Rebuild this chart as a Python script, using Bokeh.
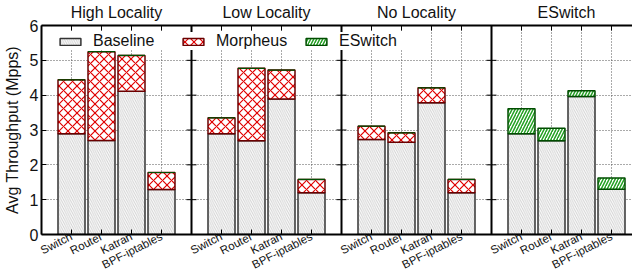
from bokeh.plotting import figure
from bokeh.models import (Range1d, FixedTicker, LinearAxis, Span, Legend,
                          LegendItem, ColumnDataSource)
from bokeh.embed import file_html
from bokeh.resources import INLINE

# ---------------- data ----------------
panels = ["High Locality", "Low Locality", "No Locality", "ESwitch"]
apps = ["Switch", "Router", "Katran", "BPF-iptables"]

baseline_high = [2.89, 2.70, 4.11, 1.29]
baseline_low = [2.89, 2.69, 3.89, 1.20]
baseline_none = [2.73, 2.65, 3.78, 1.20]
baseline_eswitch = [2.89, 2.69, 3.96, 1.30]

morpheus_high = [4.44, 5.25, 5.14, 1.78]   # total throughput with Morpheus
morpheus_low = [3.35, 4.77, 4.72, 1.58]
morpheus_none = [3.11, 2.92, 4.21, 1.58]

eswitch_total = [3.61, 3.05, 4.13, 1.62]   # total throughput with ESwitch

y_ticks = [0, 1, 2, 3, 4, 5, 6]

FONT = "Liberation Sans"
SLOTS = 5  # bar slots per panel (4 bars + gap)

# ---------------- sources ----------------
base_lists = [baseline_high, baseline_low, baseline_none, baseline_eswitch]
xs, base_top = [], []
for k, bl in enumerate(base_lists):
    for i, v in enumerate(bl):
        xs.append(k * SLOTS + i + 1)
        base_top.append(v)
src_base = ColumnDataSource(dict(x=xs, bottom=[0] * len(xs), top=base_top))

mx, mb, mt = [], [], []
for k, (bl, ml) in enumerate([(baseline_high, morpheus_high),
                              (baseline_low, morpheus_low),
                              (baseline_none, morpheus_none)]):
    for i in range(len(apps)):
        mx.append(k * SLOTS + i + 1)
        mb.append(bl[i])
        mt.append(ml[i])
src_morph = ColumnDataSource(dict(x=mx, bottom=mb, top=mt))

ex = [3 * SLOTS + i + 1 for i in range(len(apps))]
src_esw = ColumnDataSource(dict(x=ex, bottom=baseline_eswitch, top=eswitch_total))
src_esw0 = ColumnDataSource(dict(x=mx, bottom=mt, top=mt))

FRAME_W = 591
FRAME_H = 209
PX_PER_SLOT = 30.0
Y_MAX = y_ticks[-1]

p = figure(frame_width=FRAME_W, frame_height=FRAME_H,
           x_range=Range1d(0, FRAME_W / PX_PER_SLOT), y_range=Range1d(0, Y_MAX),
           output_backend="svg", toolbar_location=None,
           min_border_left=37, min_border_right=0, min_border_top=15, min_border_bottom=30)
p.background_fill_color = "white"
p.border_fill_color = "white"
p.outline_line_color = None

# grids
p.xgrid.ticker = FixedTicker(ticks=xs)
p.ygrid.ticker = FixedTicker(ticks=y_ticks)
for g in (p.xgrid, p.ygrid):
    g.grid_line_color = "#555555"
    g.grid_line_dash = "1 2"
    g.grid_line_width = 1

# bars
BW = 0.9
r_base = p.vbar(x="x", bottom="bottom", top="top", width=BW, source=src_base,
                fill_color="#fbfbfb", hatch_pattern="\\", hatch_color="#b4b4b4",
                hatch_scale=4.5, hatch_weight=0.6,
                line_color="#333333", line_width=1.5)
r_morph = p.vbar(x="x", bottom="bottom", top="top", width=BW, source=src_morph,
                 fill_color="white", hatch_pattern="x", hatch_color="#e00000",
                 hatch_scale=9, hatch_weight=1.2,
                 line_color="#6a0000", line_width=1.5)
r_esw = p.vbar(x="x", bottom="bottom", top="top", width=BW, source=src_esw,
               fill_color="white", hatch_pattern="/", hatch_color="#22a022",
               hatch_scale=6, hatch_weight=1.5,
               line_color="#004d00", line_width=1.5)
p.vbar(x="x", bottom="bottom", top="top", width=BW, source=src_esw0,
       fill_alpha=0, line_color="#004d00", line_width=1.2)

# panel separators with inward y ticks on both sides
for k in range(1, len(panels)):
    p.add_layout(Span(location=k * SLOTS, dimension="height",
                      line_color="black", line_width=2))
TICK_X = 5 / PX_PER_SLOT
TICK_Y = 5 * Y_MAX / FRAME_H
sx0, sx1, sy = [], [], []
for k in range(1, len(panels)):
    for t in y_ticks[1:-1]:
        sx0.append(k * SLOTS - TICK_X)
        sx1.append(k * SLOTS + TICK_X)
        sy.append(t)
p.segment(x0=sx0, x1=sx1, y0=sy, y1=sy, line_color="black", line_width=1)
# inward tick marks along the top border at bar positions
p.segment(x0=xs, x1=xs, y0=[Y_MAX] * len(xs), y1=[Y_MAX - TICK_Y] * len(xs),
          line_color="black", line_width=1)

# axes
p.yaxis.ticker = FixedTicker(ticks=y_ticks)
p.yaxis.axis_label = "Avg Throughput (Mpps)"
p.yaxis.axis_label_text_font = FONT
p.yaxis.axis_label_text_font_size = "16px"
p.yaxis.axis_label_text_font_style = "normal"
p.yaxis.axis_label_text_color = "#111111"
p.yaxis.axis_label_standoff = 6
p.yaxis.major_label_text_font = FONT
p.yaxis.major_label_text_font_size = "16px"
p.yaxis.major_label_text_color = "#111111"
p.yaxis.major_label_standoff = 3
p.yaxis.major_tick_in = 5
p.yaxis.major_tick_out = 0
p.yaxis.minor_tick_line_color = None
p.yaxis.axis_line_width = 2

p.xaxis.ticker = FixedTicker(ticks=xs)
p.xaxis.major_label_overrides = {x: apps[(x - 1) % SLOTS] for x in xs}
p.xaxis.major_label_orientation = 0.47
p.xaxis.major_label_text_font = FONT
p.xaxis.major_label_text_font_size = "11.5px"
p.xaxis.major_label_text_color = "#111111"
p.xaxis.major_label_standoff = 1
p.xaxis.major_tick_in = 5
p.xaxis.major_tick_out = 0
p.xaxis.minor_tick_line_color = None
p.xaxis.axis_line_width = 2

# panel titles as the top axis (its line is the top border)
title_ticks = [k * SLOTS + SLOTS / 2 for k in range(len(panels))]
title_ax = LinearAxis(ticker=FixedTicker(ticks=title_ticks),
                      major_label_overrides={t: n for t, n in zip(title_ticks, panels)},
                      major_tick_line_color=None, axis_line_width=2,
                      minor_tick_line_color=None, major_label_standoff=-1,
                      major_label_text_font=FONT, major_label_text_font_size="16px",
                      major_label_text_font_style="normal",
                      major_label_text_color="#111111")
p.add_layout(title_ax, "above")

# legend
legend = Legend(items=[LegendItem(label="Baseline", renderers=[r_base]),
                       LegendItem(label="Morpheus", renderers=[r_morph]),
                       LegendItem(label="ESwitch", renderers=[r_esw])],
                orientation="horizontal", location=(16, 184),
                glyph_width=26, glyph_height=9, label_width=87, spacing=0,
                label_standoff=10, padding=0, margin=0,
                background_fill_color="white", background_fill_alpha=1,
                border_line_color=None,
                label_text_font=FONT, label_text_font_size="16px",
                label_text_color="#111111")
p.add_layout(legend)

open("out.html", "w").write(file_html(p, INLINE))
